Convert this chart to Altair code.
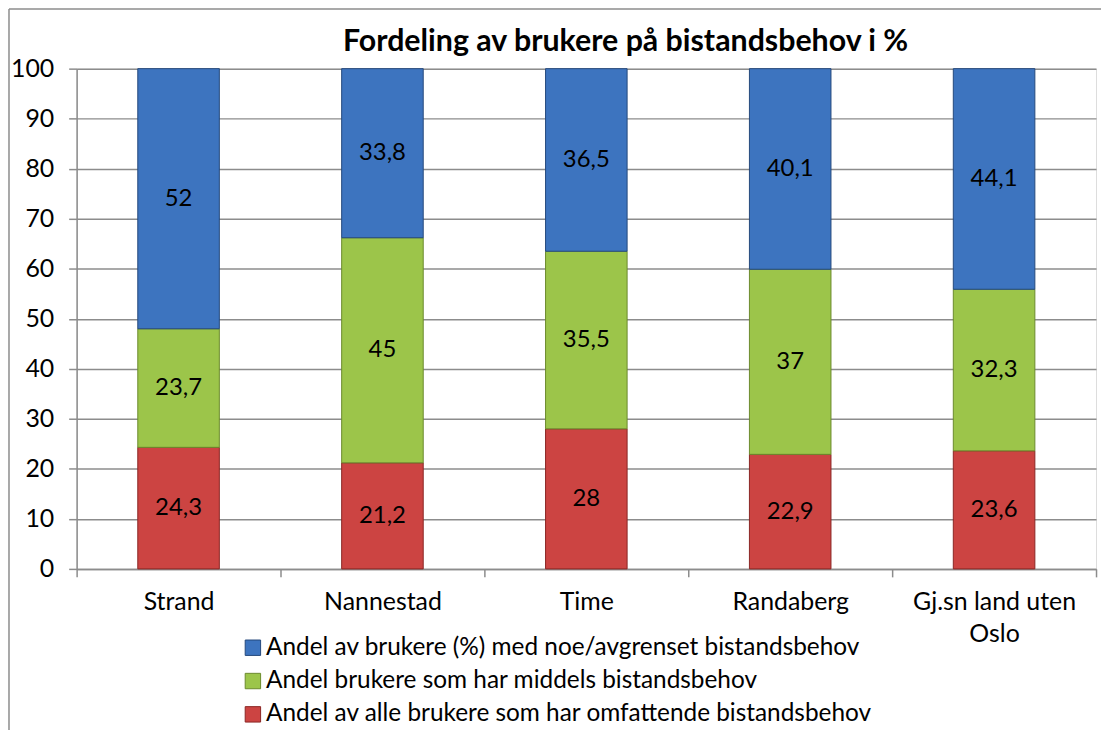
import altair as alt
import pandas as pd

categories = ["Strand", "Nannestad", "Time", "Randaberg", "Gj.sn land uten Oslo"]
series = [
    "Andel av brukere (%) med noe/avgrenset bistandsbehov",
    "Andel brukere som har middels bistandsbehov",
    "Andel av alle brukere som har omfattende bistandsbehov",
]
blue_vals = [52, 33.8, 36.5, 40.1, 44.1]
green_vals = [23.7, 45, 35.5, 37, 32.3]
red_vals = [24.3, 21.2, 28, 22.9, 23.6]
stack_order = [2, 1, 0]  # red at bottom, then green, then blue
fill_colors = ["#3d74bf", "#9cc54a", "#cc4442"]
edge_colors = ["#24497c", "#6b8a2c", "#8a2624"]
title_text = "Fordeling av brukere på bistandsbehov i %"

rows = []
for s, vals, o in zip(series, [blue_vals, green_vals, red_vals], stack_order):
    for c, v in zip(categories, vals):
        rows.append({"cat": c, "series": s, "value": v, "ord": o})
df = pd.DataFrame(rows)

FONT = "Lato"
W, H = 1025, 503

base = alt.Chart(df).transform_stack(
    stack="value", groupby=["cat"], as_=["y0", "y1"],
    sort=[alt.SortField("ord", order="ascending")]
).transform_calculate(
    mid="(datum.y0 + datum.y1) / 2",
    label="replace(toString(datum.value), '.', ',')"
)

xenc = alt.X("cat:N", sort=categories, title=None,
             scale=alt.Scale(paddingInner=0, paddingOuter=0),
             axis=alt.Axis(labelAngle=0, labelFontSize=25, labelFont=FONT, labelColor="#000000",
                           labelPadding=13, tickSize=8, tickColor="#8c8c8c", tickWidth=1.5,
                           domainColor="#8c8c8c", domainWidth=1.5, tickBand="extent",
                           labelLineHeight=32,
                           labelExpr="datum.label == 'Gj.sn land uten Oslo' ? ['Gj.sn land uten', 'Oslo'] : datum.label"))

bars = base.mark_bar(strokeWidth=1, width=alt.RelativeBandSize(0.4)).encode(
    x=xenc,
    y=alt.Y("y0:Q", title=None,
            scale=alt.Scale(domain=[0, 100], nice=False),
            axis=alt.Axis(values=list(range(0, 101, 10)), labelFontSize=25, labelFont=FONT,
                          labelColor="#000000", labelPadding=15, tickSize=8,
                          tickColor="#8c8c8c", tickWidth=1.5, domainColor="#8c8c8c",
                          domainWidth=1.5, grid=True, gridColor="#8c8c8c", gridWidth=1.5)),
    y2="y1:Q",
    color=alt.Color("series:N", scale=alt.Scale(domain=series, range=fill_colors),
                    legend=alt.Legend(title=None, orient="none", legendX=165, legendY=570,
                                      labelFontSize=24.5, labelFont=FONT, labelColor="#000000",
                                      symbolType="square", symbolSize=240, symbolStrokeWidth=1,
                                      labelOffset=1, rowPadding=8.5, labelLimit=900, padding=0)),
    stroke=alt.Stroke("series:N", scale=alt.Scale(domain=series, range=edge_colors), legend=None),
    order=alt.Order("ord:Q"),
)

labels = base.mark_text(fontSize=24, font=FONT, color="#000000", baseline="middle").encode(
    x=alt.X("cat:N", sort=categories),
    y=alt.Y("mid:Q"),
    text="label:N",
)

one = pd.DataFrame({"t": [title_text]})
title = alt.Chart(one).mark_text(font=FONT, fontSize=30.5, fontWeight="bold", color="#000000",
                                 baseline="alphabetic", align="center").encode(
    x=alt.value(552), y=alt.value(-18), text="t:N")

frame_v = alt.Chart(one).mark_rule(color="#8c8c8c", strokeWidth=1.5).encode(
    x=alt.value(-68), y=alt.value(-60), y2=alt.value(H + 170))
frame_h = alt.Chart(one).mark_rule(color="#8c8c8c", strokeWidth=1.5).encode(
    x=alt.value(-68), x2=alt.value(W + 20), y=alt.value(-60))

chart = alt.layer(bars, labels, title, frame_v, frame_h).properties(
    width=W, height=H,
    padding={"left": 69, "top": 59, "right": 5, "bottom": 160},
    autosize=alt.AutoSizeParams(type="none"),
).configure_view(stroke=None).configure(background="#ffffff")

chart.save("out.html", embed_options={"renderer": "svg", "actions": False})
